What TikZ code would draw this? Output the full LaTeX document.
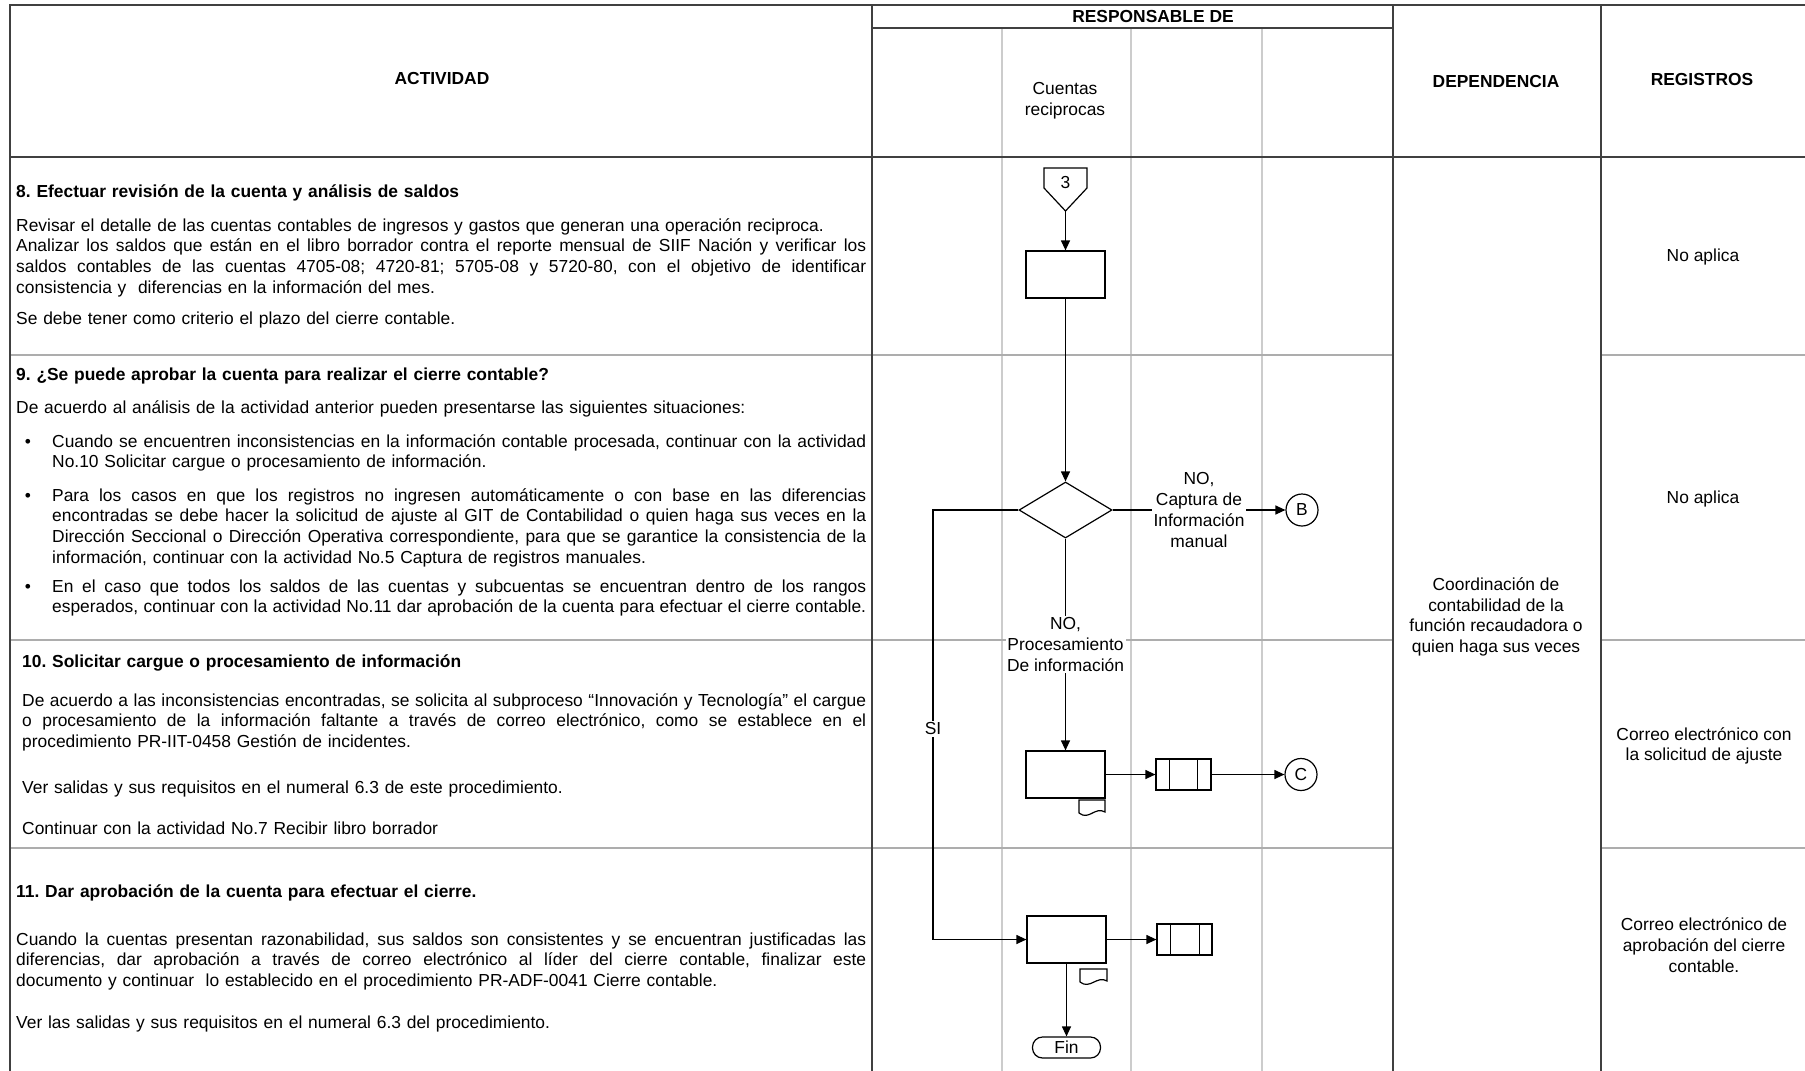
\documentclass[tikz,border=0pt]{standalone}
\usepackage{fontspec}
\setmainfont{Liberation Sans}
\usetikzlibrary{arrows.meta,shapes.geometric}
\frenchspacing
\newcommand{\bodyfont}{\fontsize{17.4}{20.7}\selectfont\frenchspacing}
\newcommand{\jl}[2][850pt]{\makebox[#1][s]{\spaceskip=0.278em plus 1em minus 0.12em\relax #2}}
\begin{document}
\begin{tikzpicture}[x=1pt,y=-1pt,
  frame/.style={draw=black!75, line width=1.6pt},
  rowline/.style={draw=black!32, line width=1.6pt},
  laneline/.style={draw=black!20, line width=2pt},
  txt/.style={font=\bodyfont, inner sep=0pt},
  para/.style={txt, anchor=base west, text width=#1, align=left},
  ctr/.style={txt, align=center},
  hdr/.style={txt, font=\bodyfont\bfseries},
  flow/.style={line width=1.2pt, draw=black},
  arr/.style={flow, -{Triangle[length=10pt,width=9pt]}},
  proc/.style={draw, fill=white, line width=1.2pt, minimum width=79pt, minimum height=47pt, inner sep=0pt},
  dec/.style={diamond, draw, fill=white, line width=1.2pt, minimum width=93pt, minimum height=56pt, inner sep=0pt},
  conn/.style={circle, draw, fill=white, line width=1.2pt, minimum size=32pt, inner sep=0pt, font=\bodyfont},
  predef/.style={draw, fill=white, line width=1.2pt, minimum width=55pt, minimum height=31pt, inner sep=0pt},
  term/.style={draw, fill=white, line width=1.2pt, rounded corners=10pt, minimum width=68pt, minimum height=21pt, inner sep=0pt, font=\bodyfont},
  lbl/.style={fill=white, inner sep=1.5pt, font=\bodyfont, align=center}
]
\useasboundingbox (0,0) rectangle (1805,1071);
\fill[white] (0,0) rectangle (1805,1071);
% lanes
\foreach \x in {1002,1131,1262} \draw[laneline] (\x,28) -- (\x,1071);
% row lines
\foreach \y in {355,640,848} {
  \draw[rowline] (10,\y) -- (1393,\y);
  \draw[rowline] (1601,\y) -- (1805,\y);
}
% frame
\draw[frame] (10,1071) -- (10,5) -- (1805,5);
\draw[frame] (10,157) -- (1805,157);
\draw[frame] (872,5) -- (872,1071);
\draw[frame] (1393,5) -- (1393,1071);
\draw[frame] (1601,5) -- (1601,1071);
\draw[frame] (872,28) -- (1393,28);

% header
\node[hdr] (hAct) at (442,79) {ACTIVIDAD};
\node[hdr] (hResp) at (1153,17) {RESPONSABLE DE};
\node[ctr] (hCta) at (1065,101) {Cuentas\\reciprocas};
\node[hdr] (hDep) at (1496,82) {DEPENDENCIA};
\node[hdr] (hReg) at (1702,80) {REGISTROS};

% row 8
\node[para=850pt, font=\bodyfont\bfseries] (t8h) at (16,197) {8. Efectuar revisión de la cuenta y análisis de saldos};
\node[para=850pt] (t8a) at (16,231) {Revisar el detalle de las cuentas contables de ingresos y gastos que generan una operación reciproca.\\
\jl{Analizar los saldos que están en el libro borrador contra el reporte mensual de SIIF Nación y verificar los}\\
\jl{saldos contables de las cuentas 4705-08; 4720-81; 5705-08 y 5720-80, con el objetivo de identificar}\\
consistencia y\ \ diferencias en la información del mes.};
\node[para=850pt] (t8b) at (16,324) {Se debe tener como criterio el plazo del cierre contable.};

% row 9
\node[para=850pt, font=\bodyfont\bfseries] (t9h) at (16,380) {9. ¿Se puede aprobar la cuenta para realizar el cierre contable?};
\node[para=850pt] (t9a) at (16,413) {De acuerdo al análisis de la actividad anterior pueden presentarse las siguientes situaciones:};
\node[txt, anchor=base] (b1) at (28,447) {\textbullet};
\node[para=814pt] (t9b1) at (52,447) {\jl[814pt]{Cuando se encuentren inconsistencias en la información contable procesada, continuar con la actividad}\\
No.10 Solicitar cargue o procesamiento de información.};
\node[txt, anchor=base] (b2) at (28,501) {\textbullet};
\node[para=814pt] (t9b2) at (52,501) {\jl[814pt]{Para los casos en que los registros no ingresen automáticamente o con base en las diferencias}\\
\jl[814pt]{encontradas se debe hacer la solicitud de ajuste al GIT de Contabilidad o quien haga sus veces en la}\\
\jl[814pt]{Dirección Seccional o Dirección Operativa correspondiente, para que se garantice la consistencia de la}\\
información, continuar con la actividad No.5 Captura de registros manuales.};
\node[txt, anchor=base] (b3) at (28,592) {\textbullet};
\node[para=814pt] (t9b3) at (52,592) {\jl[814pt]{En el caso que todos los saldos de las cuentas y subcuentas se encuentran dentro de los rangos}\\
\jl[814pt]{esperados, continuar con la actividad No.11 dar aprobación de la cuenta para efectuar el cierre contable.}};

% row 10
\node[para=844pt, font=\bodyfont\bfseries] (t10h) at (22,667) {10. Solicitar cargue o procesamiento de información};
\node[para=844pt] (t10a) at (22,706) {\jl[844pt]{De acuerdo a las inconsistencias encontradas, se solicita al subproceso “Innovación y Tecnología” el cargue}\\
\jl[844pt]{o procesamiento de la información faltante a través de correo electrónico, como se establece en el}\\
procedimiento PR-IIT-0458 Gestión de incidentes.};
\node[para=844pt] (t10b) at (22,793) {Ver salidas y sus requisitos en el numeral 6.3 de este procedimiento.};
\node[para=844pt] (t10c) at (22,834) {Continuar con la actividad No.7 Recibir libro borrador};

% row 11
\node[para=850pt, font=\bodyfont\bfseries] (t11h) at (16,897) {11. Dar aprobación de la cuenta para efectuar el cierre.};
\node[para=850pt] (t11a) at (16,945) {\jl{Cuando la cuentas presentan razonabilidad, sus saldos son consistentes y se encuentran justificadas las}\\
\jl{diferencias, dar aprobación a través de correo electrónico al líder del cierre contable, finalizar este}\\
documento y continuar\ \ lo establecido en el procedimiento PR-ADF-0041 Cierre contable.};
\node[para=850pt] (t11b) at (16,1028) {Ver las salidas y sus requisitos en el numeral 6.3 del procedimiento.};

% right columns
\node[ctr] (dep) at (1496,617) {Coordinación de\\contabilidad de la\\función recaudadora o\\quien haga sus veces};
\node[ctr] (reg8) at (1703,257) {No aplica};
\node[ctr] (reg9) at (1703,499) {No aplica};
\node[ctr] (reg10) at (1704,746) {Correo electrónico con\\la solicitud de ajuste};
\node[ctr] (reg11) at (1704,945) {Correo electrónico de\\aprobación del cierre\\contable.};

% flowchart
\draw[flow, fill=white] (1044,168) -- (1087,168) -- (1087,188) -- (1065.5,211) -- (1044,188) -- cycle;
\node[txt] (p3) at (1065.5,183) {3};
\coordinate (p3tip) at (1065.5,211);
\node[proc] (r1) at (1065.5,274.5) {};
\draw[arr] (p3tip) -- (r1.north);
\node[dec] (d) at (1065.5,510) {};
\draw[arr] (r1.south) -- (d.north);
\node[conn] (cB) at (1302,510) {B};
\draw[arr] (d.east) -- node[lbl] (lNo1) {NO,\\Captura de\\Información\\manual} (cB.west);
\node[proc] (r2) at (1065.5,774.5) {};
\draw[arr] (d.south) -- node[lbl] (lNo2) {NO,\\Procesamiento\\De información} (r2.north);
\node[predef] (pp1) at (1183.5,774.5) {};
\draw[flow] ([xshift=14pt]pp1.north west) -- ([xshift=14pt]pp1.south west);
\draw[flow] ([xshift=-14pt]pp1.north east) -- ([xshift=-14pt]pp1.south east);
\draw[arr] (r2.east) -- (pp1.west);
\node[conn] (cC) at (1301,774.5) {C};
\draw[arr] (pp1.east) -- (cC.west);
\draw[flow] (1079,813) -- (1079,800) -- (1105,800) -- (1105,812) .. controls (1095,806) and (1089,821) .. (1079,813);

\node[proc] (r3) at (1066.5,939.5) {};
\coordinate (siC) at (933,939.5);
\draw[arr] (d.west) -| (siC) -- (r3.west);
\node[lbl] (lSi) at (933,729) {SI};
\node[predef] (pp2) at (1184.5,939.5) {};
\draw[flow] ([xshift=14pt]pp2.north west) -- ([xshift=14pt]pp2.south west);
\draw[flow] ([xshift=-13pt]pp2.north east) -- ([xshift=-13pt]pp2.south east);
\draw[arr] (r3.east) -- (pp2.west);
\draw[flow] (1080,982) -- (1080,969) -- (1107,969) -- (1107,981) .. controls (1097,975) and (1090,990) .. (1080,982);
\node[term] (fin) at (1066.5,1047.5) {Fin};
\draw[arr] (r3.south) -- (fin.north);
\end{tikzpicture}
\end{document}
